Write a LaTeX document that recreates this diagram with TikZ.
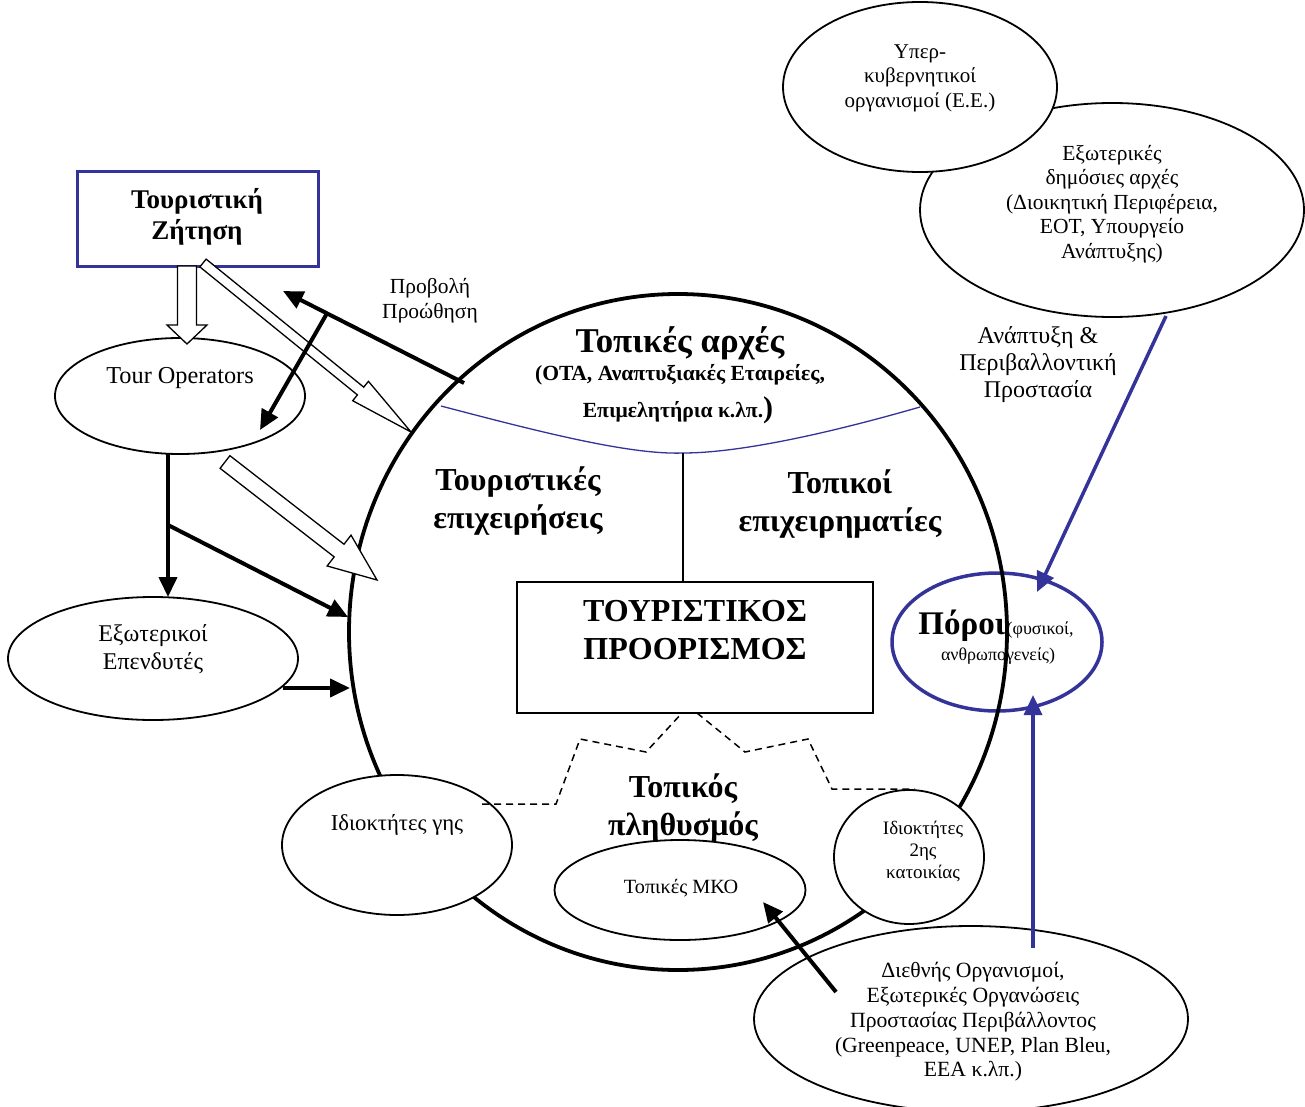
\documentclass[tikz,border=0pt]{standalone}
\usepackage{fontspec}
\setmainfont{Liberation Serif}
\usetikzlibrary{arrows.meta,calc,shapes.geometric}

\definecolor{navy}{RGB}{51,51,153}

\newcommand\fsz[2]{\fontsize{#1}{#2}\selectfont}

% hollow block arrow: tail, tip, shaft half width, head half width, head length, neck name
\newcommand\hollowarrow[6]{%
  \coordinate (#6) at ($(#2)!#5!(#1)$);
  \draw[hollow] ($(#1)!#3!90:(#2)$) -- ($(#6)!#3!90:(#2)$) -- ($(#6)!#4!90:(#2)$)
    -- (#2) -- ($(#6)!#4!-90:(#2)$) -- ($(#6)!#3!-90:(#2)$) -- ($(#1)!#3!-90:(#2)$) -- cycle;}

\tikzset{
  oval/.style={ellipse, draw, line width=1.8pt, fill=white, inner sep=0pt},
  lbl/.style={align=center, inner sep=0pt},
  heavy/.style={line width=4pt, -{Triangle[length=20pt,width=18pt]}},
  bluearrow/.style={navy, line width=3.5pt, -{Triangle[length=20pt,width=18pt]}},
  hollow/.style={fill=white, line width=1.3pt, line join=miter},
}

\begin{document}
\begin{tikzpicture}[x=1pt,y=-1pt]
\useasboundingbox (0,0) rectangle (1305,1107);
\fill[white] (0,0) rectangle (1305,1107);

% resources
\node[ellipse, draw=navy, line width=3.5pt, fill=white, minimum width=210pt, minimum height=138pt, inner sep=0pt] (res) at (997,642) {};
\node[anchor=base, inner sep=0pt] (resA) at (996,634) {{\fsz{33}{36}\bfseries Πόροι}\,{\fsz{18}{21}(φυσικοί,}};
\node[anchor=base, inner sep=0pt] (resB) at (998,660) {\fsz{18}{21}ανθρωπογενείς)};

% outside public bodies
\node[oval, minimum width=384pt, minimum height=214pt] (pub) at (1112,210) {};
\node[oval, minimum width=274pt, minimum height=170pt] (supra) at (920,87) {};
\node[lbl, font=\fsz{21}{24.5}] (supraT) at (920,78) {Υπερ-\\κυβερνητικοί\\οργανισμοί (Ε.Ε.)};
\node[lbl, font=\fsz{21.5}{24.5}] (pubT) at (1112,204) {Εξωτερικές\\δημόσιες αρχές\\(Διοικητική Περιφέρεια,\\ΕΟΤ, Υπουργείο\\Ανάπτυξης)};

% international organisations
\node[oval, minimum width=434pt, minimum height=186pt] (intl) at (971,1019) {};
\node[lbl, font=\fsz{21.7}{24.7}] (intlT) at (973,1022) {Διεθνής Οργανισμοί,\\Εξωτερικές Οργανώσεις\\Προστασίας Περιβάλλοντος\\(Greenpeace, UNEP, Plan Bleu,\\EEA κ.λπ.)};

% destination
\node[ellipse, draw, line width=3.8pt, minimum width=658pt, minimum height=676pt, inner sep=0pt] (dest) at (678,632) {};

% land and second-home owners
\node[oval, minimum width=230pt, minimum height=140pt] (land) at (397,845) {};
\node[lbl, font=\fsz{22.7}{26}] (landT) at (397,825) {Ιδιοκτήτες γης};
\node[oval, minimum width=150pt, minimum height=134pt] (second) at (909,857) {};
\node[lbl, font=\fsz{19}{22}] (secondT) at (923,851) {Ιδιοκτήτες\\2ης\\κατοικίας};
\node[oval, minimum width=251pt, minimum height=100pt] (ngo) at (680,890) {};
\node[lbl, font=\fsz{20.2}{23}] (ngoT) at (681,888) {Τοπικές ΜΚΟ};

% local authorities boundary
\coordinate (la1) at (441,406);
\coordinate (la2) at (683,453);
\coordinate (la3) at (920,407);
\draw[navy, line width=1.3pt] (la1) .. controls (540,432) and (630,455) .. (la2)
  .. controls (740,453) and (830,433) .. (la3);

\node[lbl, font=\fsz{34.8}{38}\bfseries] (auth) at (680,343) {Τοπικές αρχές};
\node[lbl, font=\fsz{21.6}{24}\bfseries] (authA) at (680,375) {(ΟΤΑ, Αναπτυξιακές Εταιρείες,};
\node[lbl, font=\fsz{21.6}{24}\bfseries] (authB) at (678,410) {Επιμελητήρια κ.λπ.{\fsz{30}{34})}};

\node[lbl, font=\fsz{32}{38}\bfseries] (firms) at (518,501) {Τουριστικές\\επιχειρήσεις};
\node[lbl, font=\fsz{32}{38}\bfseries] (locals) at (840,504) {Τοπικοί\\επιχειρηματίες};

% central box
\node[draw, line width=1.8pt, minimum width=356pt, minimum height=131pt, inner sep=0pt] (core) at (695,647.5) {};
\node[lbl, font=\fsz{32}{38}\bfseries] (coreT) at (695,630) {ΤΟΥΡΙΣΤΙΚΟΣ\\ΠΡΟΟΡΙΣΜΟΣ};
\draw[line width=1.5pt] (la2) -- (core.north -| la2);

% local population
\node[lbl, font=\fsz{32}{38}\bfseries] (pop) at (683,808) {Τοπικός\\πληθυσμός};
\coordinate (d0) at (482,804);
\coordinate (d1) at (556,804);
\coordinate (d2) at (580,739);
\coordinate (d3) at (646,752);
\coordinate (d4) at (682,713);
\coordinate (d5) at (697,713);
\coordinate (d6) at (745,752);
\coordinate (d7) at (808,739);
\coordinate (d8) at (832,789);
\coordinate (d9) at (915,789);
\draw[line width=1.5pt, dash pattern=on 7pt off 5pt] (d0) -- (d1) -- (d2) -- (d3) -- (d4);
\draw[line width=1.5pt, dash pattern=on 7pt off 5pt] (d5) -- (d6) -- (d7) -- (d8) -- (d9);

% tourism demand side
\node[draw=navy, line width=3pt, minimum width=241pt, minimum height=94pt, inner sep=0pt] (demand) at (197.5,219) {};
\node[lbl, font=\fsz{27}{31}\bfseries] (demandT) at (197,217) {Τουριστική\\Ζήτηση};
\node[oval, minimum width=250pt, minimum height=116pt] (tour) at (180,396) {};
\node[lbl, font=\fsz{24.3}{27}] (tourT) at (180,378) {Tour Operators};
\node[oval, minimum width=290pt, minimum height=123pt] (inv) at (153,658.5) {};
\node[lbl, font=\fsz{24}{28.5}] (invT) at (153,649) {Εξωτερικοί\\Επενδυτές};

\node[lbl, font=\fsz{21.5}{25}] (promo) at (430,301) {Προβολή\\Προώθηση};

% hollow flows
\coordinate (h1a) at (187,266);
\coordinate (h1b) at (187,344);
\hollowarrow{h1a}{h1b}{9.5pt}{20pt}{19pt}{h1n}
\coordinate (h2a) at (203,263);
\coordinate (h2b) at (411,432);
\hollowarrow{h2a}{h2b}{5pt}{12.5pt}{65pt}{h2n}
\coordinate (h3a) at (225,462);
\coordinate (h3b) at (377,580);
\hollowarrow{h3a}{h3b}{8pt}{19.5pt}{48pt}{h3n}

% heavy flows
\coordinate (p0) at (464,383);
\coordinate (p1) at (283,291);
\draw[heavy] (p0) -- (p1);
\coordinate (pb) at ($(p0)!0.757!(p1)$);
\coordinate (pt) at (260,430);
\draw[heavy] (pb) -- (pt);

\coordinate (v0) at (168,454);
\coordinate (v1) at (168,597);
\draw[heavy] (v0) -- (v1);
\coordinate (vb) at (168,525);
\coordinate (vt) at (348,617);
\draw[heavy] (vb) -- (vt);
\coordinate (i0) at (283,688);
\coordinate (i1) at (350,688);
\draw[heavy] (i0) -- (i1);

\coordinate (n0) at (836,992);
\coordinate (n1) at (763,902);
\draw[heavy] (n0) -- (n1);

% development and protection flows
\node[lbl, font=\fsz{24}{27}] (dev) at (1038,365) {Ανάπτυξη \&\\Περιβαλλοντική\\Προστασία};
\coordinate (b0) at (1166,316);
\coordinate (b1) at (1037,592);
\draw[bluearrow] (b0) -- (b1);
\coordinate (c0) at (1033,948);
\coordinate (c1) at (1033,695);
\draw[bluearrow] (c0) -- (c1);
\end{tikzpicture}
\end{document}
